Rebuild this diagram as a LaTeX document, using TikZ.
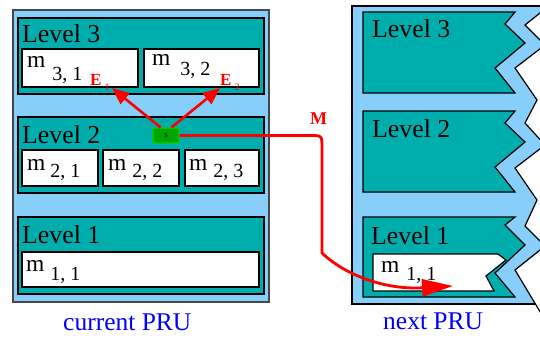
\documentclass[tikz,border=0pt]{standalone}
\usepackage{fontspec}
\setmainfont{Liberation Serif}
\usetikzlibrary{arrows.meta}
\definecolor{prublue}{RGB}{135,206,250}
\definecolor{lvlteal}{RGB}{0,173,173}
\definecolor{sgreen}{RGB}{0,165,0}
\definecolor{sborder}{RGB}{0,210,0}
\definecolor{prublk}{RGB}{70,70,70}
\newcommand\mlab[3]{m\hspace{#2pt}\raisebox{-#3pt}{\fontsize{20}{24}\selectfont #1}}
\newcommand\elab[1]{E\hspace{3pt}\raisebox{-5pt}{\fontsize{10}{11}\selectfont\mdseries #1}}
\begin{document}
\begin{tikzpicture}[x=1pt,y=-1pt,
  box/.style={draw, line width=1.2pt, anchor=north west, inner sep=0pt, outer sep=0pt},
  prubox/.style={box, fill=prublue, draw=prublk},
  lvlbox/.style={box, fill=lvlteal},
  mbox/.style={box, fill=white},
  lvlpoly/.style={draw, line width=1.2pt, fill=lvlteal, line join=miter},
  mpoly/.style={draw, line width=1.2pt, fill=white},
  lvltext/.style={anchor=base west, inner sep=0pt, font=\fontsize{25.8}{30}\selectfont},
  mtext/.style={anchor=base west, inner sep=0pt, font=\fontsize{23.5}{27}\selectfont},
  prutext/.style={anchor=base west, inner sep=0pt, text=blue, font=\fontsize{25.5}{30}\selectfont},
  elabel/.style={anchor=base west, inner sep=0pt, text=red, font=\fontsize{17}{20}\selectfont\bfseries},
  sbox/.style={draw=sborder, fill=sgreen, line width=1.2pt, rounded corners=1.5pt, minimum width=26pt, minimum height=15pt, inner sep=0pt, font=\fontsize{9}{10}\selectfont},
  redline/.style={draw=red, line width=2.6pt},
  earrow/.style={redline, -{Triangle[length=17pt,width=14pt]}},
  marrow/.style={redline, line width=2.8pt, -{Triangle[length=31pt,width=17pt]}}
]
\useasboundingbox (0,0) rectangle (540,338);
\clip (0,0) rectangle (540,338);

% ---------- current PRU ----------
\node[prubox, minimum width=256pt, minimum height=292pt] (curpru) at (13,10) {};
\node[lvlbox, minimum width=246pt, minimum height=76pt] (cl3) at (18,18) {};
\node[mbox, minimum width=116pt, minimum height=38pt] (m31) at (22,49) {};
\node[mbox, minimum width=115pt, minimum height=38pt] (m32) at (144,49) {};
\node[lvlbox, minimum width=246pt, minimum height=76pt] (cl2) at (18,117) {};
\node[mbox, minimum width=76pt, minimum height=36pt] (m21) at (22,150) {};
\node[mbox, minimum width=76pt, minimum height=36pt] (m22) at (103,150) {};
\node[mbox, minimum width=74pt, minimum height=36pt] (m23) at (185,150) {};
\node[lvlbox, minimum width=246pt, minimum height=77pt] (cl1) at (18,217) {};
\node[mbox, minimum width=237pt, minimum height=35pt] (m11) at (22,252) {};

\node[lvltext] (tl3) at (22,42) {Level 3};
\node[lvltext] (tl2) at (22,143) {Level 2};
\node[lvltext] (tl1) at (22,243) {Level 1};
\node[mtext] (tm31) at (27,67) {\mlab{3, 1}{7}{13}};
\node[mtext] (tm32) at (152,65) {\mlab{3, 2}{10}{10}};
\node[mtext] (tm21) at (27,170) {\mlab{2, 1}{5}{7}};
\node[mtext] (tm22) at (108,170) {\mlab{2, 2}{6}{7}};
\node[mtext] (tm23) at (189,170) {\mlab{2, 3}{6}{7}};
\node[mtext] (tm11) at (26,271) {\mlab{1, 1}{6}{9}};
\node[prutext] (curlab) at (63,330) {current PRU};

% ---------- next PRU ----------
\node[prubox, draw=black, line width=2pt, minimum width=200pt, minimum height=298pt] (nextpru) at (352,6) {};
\fill[white] (545,9) -- (525,25) -- (545,45) -- (515,68) -- (537,100) -- (525,123) -- (545,145) -- (515,168) -- (537,200) -- (525,226) -- (545,246) -- (515,270) -- (542,315) -- (560,315) -- (560,9) -- cycle;
\draw[line width=1.2pt, line join=miter] (545,9) -- (525,25) -- (545,45) -- (515,68) -- (537,100) -- (525,123) -- (545,145) -- (515,168) -- (537,200) -- (525,226) -- (545,246) -- (515,270) -- (542,315);

\draw[lvlpoly] (363,12) -- (515,12) -- (505,24) -- (525,43) -- (495,68) -- (515,93) -- (363,93) -- cycle;
\draw[lvlpoly] (363,111) -- (515,111) -- (505,123) -- (525,142) -- (495,167) -- (515,192) -- (363,192) -- cycle;
\draw[lvlpoly] (363,217) -- (515,217) -- (505,225) -- (525,245) -- (495,273) -- (515,297) -- (363,297) -- cycle;
\draw[mpoly] (373,254) -- (498,254) -- (506,260) -- (486,276) -- (494,291) -- (373,291) -- cycle;

\node[lvltext] (nl3) at (372,37) {Level 3};
\node[lvltext] (nl2) at (372,137) {Level 2};
\node[lvltext] (nl1) at (371,244) {Level 1};
\node[mtext] (nm11) at (381,272) {\mlab{1, 1}{7}{8}};
\node[prutext] (nextlab) at (383,329) {next PRU};

% ---------- s, E and M ----------
\node[sbox] (s) at (166,135.5) {s};
\node[elabel] (e1) at (90,85) {\elab{1}};
\node[elabel] (e2) at (220,85) {\elab{2}};
\node[elabel, font=\fontsize{18}{20}\selectfont\bfseries] (mlabel) at (310,124) {M};
\coordinate (e1tip) at (112,88);
\coordinate (e2tip) at (220,88);
\coordinate (mtip) at (453,286);

\draw[earrow] (s.124) -- (e1tip);
\draw[earrow] (s.56) -- (e2tip);
\draw[marrow] (s.east) -- (310,135.5) .. controls (322,135.5) .. (322,148) -- (322,253) .. controls (345,275) and (385,290) .. (mtip);
\end{tikzpicture}
\end{document}
